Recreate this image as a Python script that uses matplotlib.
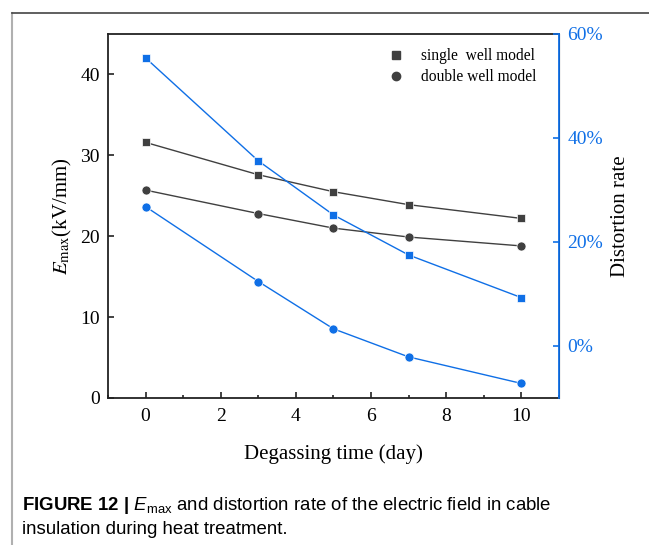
import matplotlib
matplotlib.use("Agg")
import matplotlib.pyplot as plt
from matplotlib.lines import Line2D
from matplotlib.ticker import MultipleLocator, FuncFormatter

plt.rcParams['font.family'] = ['Liberation Serif', 'DejaVu Serif']
plt.rcParams['mathtext.fontset'] = 'custom'
plt.rcParams['mathtext.rm'] = 'Liberation Sans'
plt.rcParams['mathtext.it'] = 'Liberation Sans:italic'
plt.rcParams['mathtext.bf'] = 'Liberation Sans:bold'

# data
days = [0, 3, 5, 7, 10]
emax_single = [31.6, 27.6, 25.5, 23.9, 22.2]
emax_double = [25.7, 22.8, 21.0, 19.9, 18.8]
dist_single = [55.4, 35.6, 25.2, 17.5, 9.3]
dist_double = [26.8, 12.4, 3.3, -2.1, -7.2]
labels = ["single  well model", "double well model"]

gray = "#404040"
blue = "#0f6fe6"

fig = plt.figure(figsize=(6.49, 5.45), dpi=100)
ax = fig.add_axes([108/649, 1-398/545, 451/649, 364/545])
ax2 = ax.twinx()

ax.plot(days, emax_single, '-s', color=gray, lw=1, ms=6, mec='white', mew=0.5, label=labels[0])
ax.plot(days, emax_double, '-o', color=gray, lw=1, ms=6.5, mec='white', mew=0.5, label=labels[1])
ax2.plot(days, dist_single, '-s', color=blue, lw=1, ms=6, mec='white', mew=0.5)
ax2.plot(days, dist_double, '-o', color=blue, lw=1, ms=6.5, mec='white', mew=0.5)

ax.set_xlim(-1, 11)
ax.set_ylim(0, 45)
ax2.set_ylim(-10, 60)
ax.xaxis.set_major_locator(MultipleLocator(2))
ax.xaxis.set_minor_locator(MultipleLocator(1))
ax.yaxis.set_major_locator(MultipleLocator(10))
ax2.yaxis.set_major_locator(MultipleLocator(20))
ax2.yaxis.set_major_formatter(FuncFormatter(lambda v, p: "%d%%" % v))

for s in ['left', 'top', 'bottom']:
    ax.spines[s].set_linewidth(1.3)
    ax.spines[s].set_color('#222222')
ax2.spines['right'].set_color(blue)
ax2.spines['right'].set_linewidth(1.3)
for s in ['left', 'top', 'bottom']:
    ax2.spines[s].set_visible(False)

ax.tick_params(axis='both', which='major', direction='in', length=4.5, width=1.2, labelsize=14, color='#222222')
ax.tick_params(axis='x', which='major', pad=7)
ax.tick_params(axis='y', which='major', pad=6)
ax.tick_params(axis='x', which='minor', direction='in', length=2.5, width=1.2, color='#222222')
ax2.tick_params(axis='y', direction='in', length=4.5, width=1.2, labelsize=14, pad=6,
                color=blue, labelcolor=blue)

ax.set_xlabel("Degassing time (day)", fontsize=15, labelpad=14)
ax.set_ylabel(r"$E_{\mathrm{max}}$(kV/mm)", fontsize=15, math_fontfamily='stix', labelpad=4)
ax2.set_ylabel("Distortion rate", fontsize=15, labelpad=6)

leg_handles = [Line2D([], [], ls='none', marker='s', color=gray, ms=5.5),
               Line2D([], [], ls='none', marker='o', color=gray, ms=6)]
ax.legend(leg_handles, labels, loc='upper right', frameon=False, fontsize=11.2,
          handlelength=1.2, handletextpad=1.0, labelspacing=0.35,
          bbox_to_anchor=(0.98, 1.0))

# frame around the figure panel
fig.add_artist(Line2D([12/649, 12/649], [0, 1-13/545], color='#b0b0b0', lw=1.5, transform=fig.transFigure))
fig.add_artist(Line2D([12/649, 1], [1-13/545, 1-13/545], color='#444444', lw=1.2, transform=fig.transFigure))

cap1 = r"$\mathbf{FIGURE\ 12\ |}$ $E_{\mathrm{max}}$ and distortion rate of the electric field in cable"
fig.text(22/649, 1-505/545, cap1, fontsize=13.4, family='Liberation Sans', va='center', ha='left')
fig.text(22/649, 1-529/545, "insulation during heat treatment.", fontsize=13.4,
         family='Liberation Sans', va='center', ha='left')

fig.savefig("out.png", dpi=100)
